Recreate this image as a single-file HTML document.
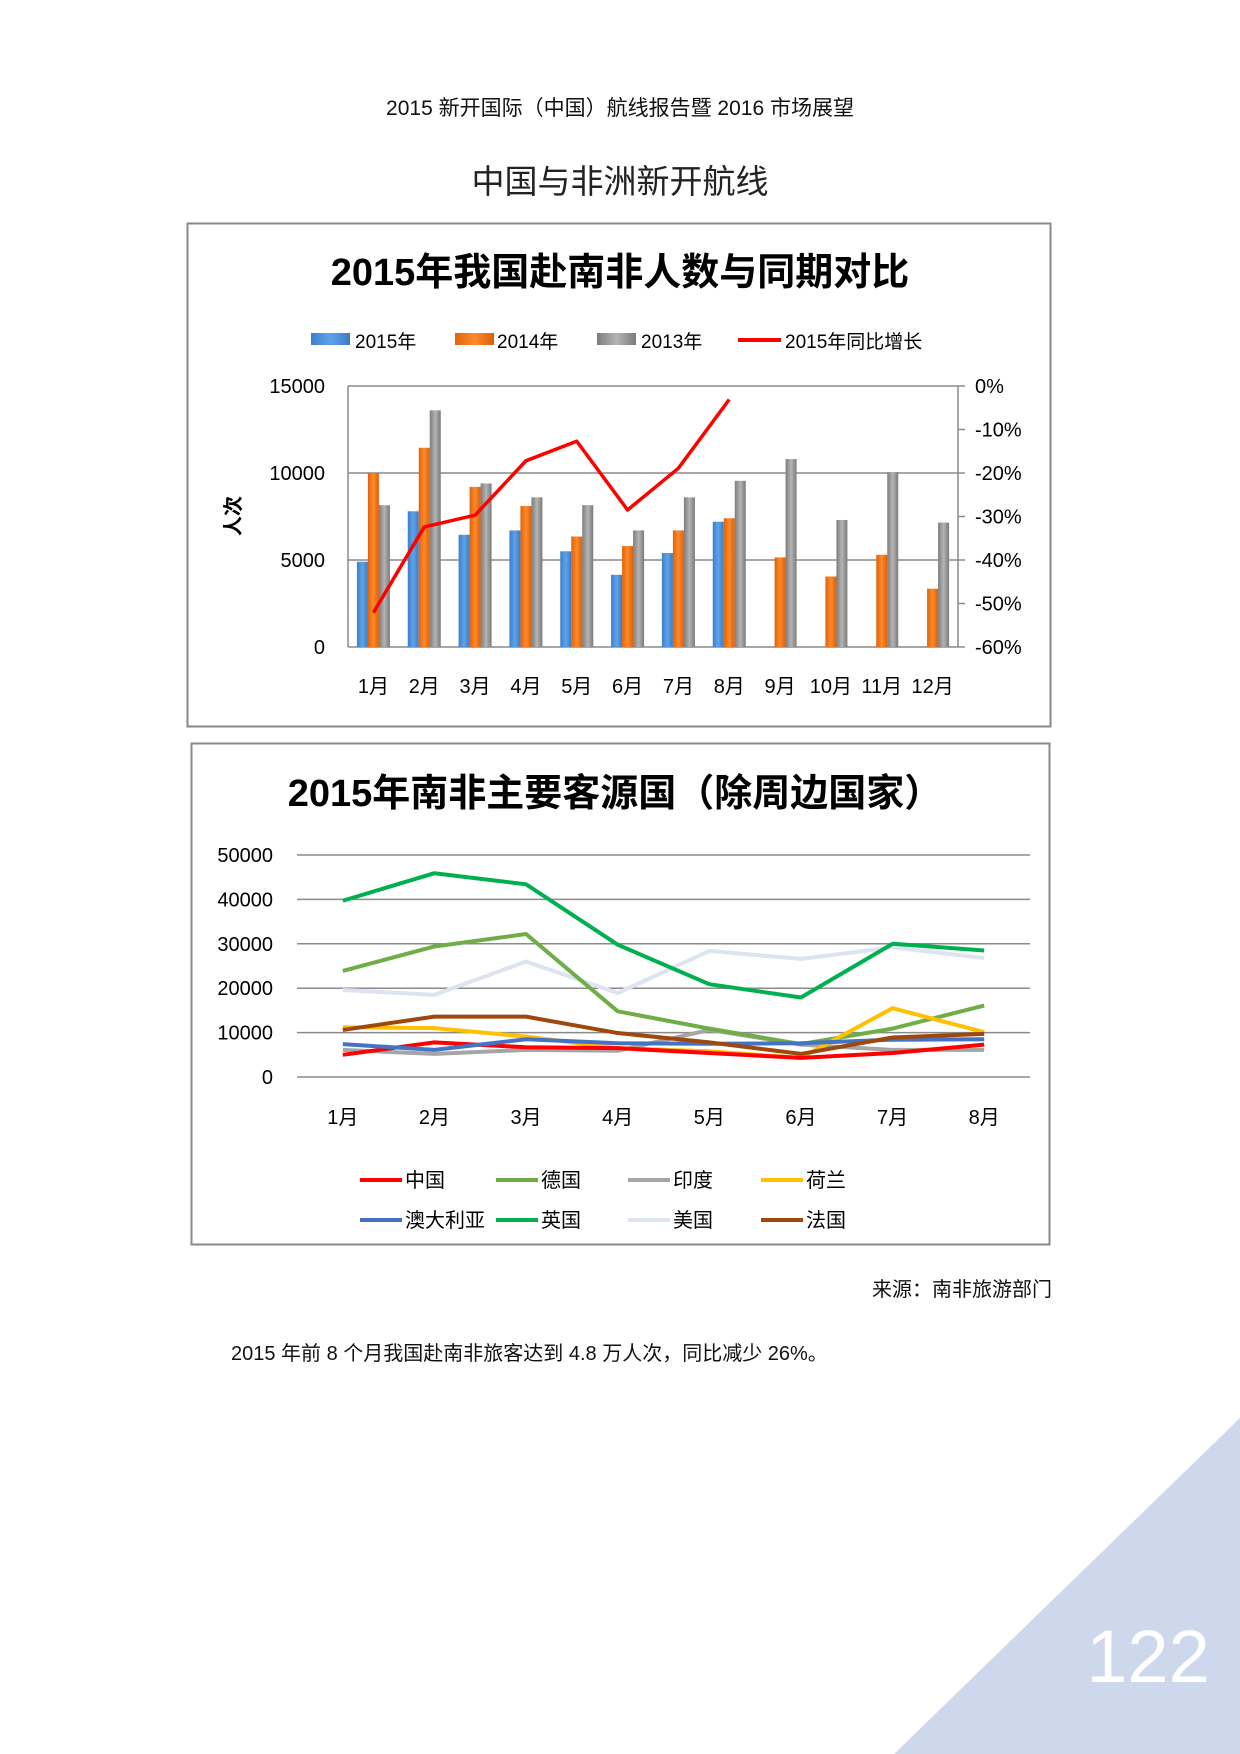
<!DOCTYPE html>
<html><head><meta charset="utf-8">
<style>
body{margin:0;background:#fff;}
svg{display:block;}
text{font-family:"Liberation Sans","Noto Sans CJK SC",sans-serif;}
</style></head>
<body>
<svg id="pg" width="1240" height="1754" viewBox="0 0 1240 1754" xmlns="http://www.w3.org/2000/svg">
<defs>
<linearGradient id="gB" x1="0" x2="1" y1="0" y2="0"><stop offset="0" stop-color="#3b7fc9"/><stop offset="0.5" stop-color="#5ea3ea"/><stop offset="1" stop-color="#3a7cc4"/></linearGradient>
<linearGradient id="gO" x1="0" x2="1" y1="0" y2="0"><stop offset="0" stop-color="#e0620a"/><stop offset="0.5" stop-color="#ff8a2a"/><stop offset="1" stop-color="#dc5f08"/></linearGradient>
<linearGradient id="gG" x1="0" x2="1" y1="0" y2="0"><stop offset="0" stop-color="#7c7c7c"/><stop offset="0.5" stop-color="#b4b4b4"/><stop offset="1" stop-color="#7a7a7a"/></linearGradient>
</defs>
<text x="620" y="115" font-size="21" text-anchor="middle" fill="#111">2015 新开国际（中国）航线报告暨 2016 市场展望</text>
<text x="620" y="193" font-size="33" text-anchor="middle" fill="#222">中国与非洲新开航线</text>

<g>
<rect x="187.5" y="223.5" width="863" height="503" fill="#fff" stroke="#888" stroke-width="2"/>
<text x="620" y="285" font-size="38" font-weight="bold" text-anchor="middle" fill="#000">2015年我国赴南非人数与同期对比</text>
<g>
<rect x="311" y="333" width="39" height="12" fill="url(#gB)"/>
<text x="355" y="348" font-size="19">2015年</text>
<rect x="455" y="333" width="39" height="12" fill="url(#gO)"/>
<text x="497" y="348" font-size="19">2014年</text>
<rect x="597" y="333" width="39" height="12" fill="url(#gG)"/>
<text x="641" y="348" font-size="19">2013年</text>
<line x1="738" y1="340" x2="781" y2="340" stroke="#ff0000" stroke-width="4"/>
<text x="785" y="348" font-size="19">2015年同比增长</text>
</g>
<text transform="translate(240,516) rotate(-90)" font-size="20" font-weight="bold" text-anchor="middle">人次</text>
<g id="c1"></g>
</g>

<g>
<rect x="191.5" y="743.5" width="858" height="501" fill="#fff" stroke="#888" stroke-width="2"/>
<text x="615" y="806" font-size="38" font-weight="bold" text-anchor="middle" fill="#000">2015年南非主要客源国（除周边国家）</text>
<g id="c2"></g>
</g>

<text x="1052" y="1296" font-size="20" text-anchor="end" fill="#111">来源：南非旅游部门</text>
<text x="231" y="1360" font-size="20" fill="#111">2015 年前 8 个月我国赴南非旅客达到 4.8 万人次，同比减少 26%。</text>
<polygon points="1240,1418 1240,1754 894,1754" fill="#cdd8ed"/>
<text x="1148" y="1682" font-size="74" text-anchor="middle" fill="#fff">122</text>
</svg>
<script>
const NS="http://www.w3.org/2000/svg";
const months1=["1月","2月","3月","4月","5月","6月","7月","8月","9月","10月","11月","12月"];
const v2015=[4900,7800,6450,6700,5500,4150,5400,7200];
const v2014=[10000,11450,9200,8100,6350,5800,6700,7400,5150,4050,5300,3350];
const v2013=[8150,13600,9400,8600,8150,6700,8600,9550,10800,7300,10050,7150];
const growth=[-52.1,-32.4,-29.7,-17.2,-12.7,-28.5,-18.9,-3.1];
const leftTicks=[0,5000,10000,15000];
const rightTicks=[0,-10,-20,-30,-40,-50,-60];

const months2=["1月","2月","3月","4月","5月","6月","7月","8月"];
const ticks2=[0,10000,20000,30000,40000,50000];
const sIndia=[6100,5200,6100,5900,10600,7300,6100,6100];
const sUSA=[19600,18500,26000,18900,28400,26600,29200,26800];
const sGermany=[23900,29400,32200,14800,10900,7400,10900,16100];
const sNetherlands=[11200,11000,9100,6500,5800,4300,15500,10100];
const sChina=[5000,7800,6700,6500,5400,4300,5400,7300];
const sAustralia=[7400,6100,8500,7600,7500,7600,8400,8500];
const sFrance=[10600,13600,13600,9900,7800,5200,8900,9700];
const sUK=[39700,45900,43400,29800,20900,17900,30000,28500];

function mk(tag,attrs,parent,txt){const e=document.createElementNS(NS,tag);for(const k in attrs)e.setAttribute(k,attrs[k]);if(txt!==undefined)e.textContent=txt;parent.appendChild(e);return e;}

const c1=document.getElementById('c1');
const P1={l:348,r:958,t:386,b:647};
const yL=v=>P1.b-v/15000*(P1.b-P1.t);
const yR=p=>P1.t+(-p)/60*(P1.b-P1.t);
const bw=(P1.r-P1.l)/months1.length;
const xC=i=>P1.l+bw*(i+0.5);
leftTicks.forEach(v=>{
  const g=mk('line',{x1:P1.l,x2:P1.r,y1:yL(v),y2:yL(v),stroke:'#8a8a8a','stroke-width':1.5},c1);
  
  
  const t=mk('text',{x:325,y:yL(v)+7,'font-size':20,'text-anchor':'end'},c1,String(v));
  
  
});
rightTicks.forEach(p=>{
  const tk=mk('line',{x1:P1.r,x2:P1.r+7,y1:yR(p),y2:yR(p),stroke:'#8a8a8a','stroke-width':1.5},c1);
  
  
  const t=mk('text',{x:975,y:yR(p)+7,'font-size':20},c1,p+'%');
  
  
});
const ax1=mk('line',{x1:P1.l,x2:P1.l,y1:P1.t,y2:P1.b,stroke:'#8a8a8a','stroke-width':1.5},c1);


const ax2=mk('line',{x1:P1.r,x2:P1.r,y1:P1.t,y2:P1.b,stroke:'#8a8a8a','stroke-width':1.5},c1);


const barW=11;
function bars(arr,off,fill,nm){arr.forEach((v,i)=>{
  const r=mk('rect',{x:xC(i)+off,y:yL(v),width:barW,height:P1.b-yL(v),fill:fill},c1);
  
  
});}
bars(v2015,-16.5,'url(#gB)','2015');
bars(v2014,-5.5,'url(#gO)','2014');
bars(v2013,5.5,'url(#gG)','2013');
const gl=mk('polyline',{points:growth.map((p,i)=>xC(i)+','+yR(p)).join(' '),fill:'none',stroke:'#ff0000','stroke-width':3.5,'stroke-linejoin':'round'},c1);


months1.forEach((m,i)=>{
  const t=mk('text',{x:xC(i),y:693,'font-size':20,'text-anchor':'middle'},c1,m);
  
  
});

const c2=document.getElementById('c2');
const P2={l:297,r:1030,t:855,b:1077};
const y2=v=>P2.b-v/50000*(P2.b-P2.t);
const bw2=(P2.r-P2.l)/months2.length;
const x2=i=>P2.l+bw2*(i+0.5);
ticks2.forEach(v=>{
  const g=mk('line',{x1:P2.l,x2:P2.r,y1:y2(v),y2:y2(v),stroke:'#8a8a8a','stroke-width':1.5},c2);
  
  
  const t=mk('text',{x:273,y:y2(v)+7,'font-size':20,'text-anchor':'end'},c2,String(v));
  
  
});
months2.forEach((m,i)=>{
  const t=mk('text',{x:x2(i),y:1124,'font-size':20,'text-anchor':'middle'},c2,m);
  
  
});
const series=[
 ['india',sIndia,'#a5a5a5'],['usa',sUSA,'#dde3ef'],['germany',sGermany,'#70ad47'],['netherlands',sNetherlands,'#ffc000'],
 ['china',sChina,'#ff0000'],['australia',sAustralia,'#4472c4'],['france',sFrance,'#9e480e'],['uk',sUK,'#00b050']];
series.forEach(s=>{
  const l=mk('polyline',{points:s[1].map((v,i)=>x2(i)+','+y2(v)).join(' '),fill:'none',stroke:s[2],'stroke-width':4,'stroke-linejoin':'round'},c2);
  
  
});
const leg=[['中国','#ff0000',360,1180],['德国','#70ad47',496,1180],['印度','#a5a5a5',628,1180],['荷兰','#ffc000',761,1180],
 ['澳大利亚','#4472c4',360,1220],['英国','#00b050',496,1220],['美国','#dde3ef',628,1220],['法国','#9e480e',761,1220]];
leg.forEach(e=>{
  const l=mk('line',{x1:e[2],x2:e[2]+42,y1:e[3],y2:e[3],stroke:e[1],'stroke-width':4},c2);
  
  
  const t=mk('text',{x:e[2]+45,y:e[3]+7,'font-size':20},c2,e[0]);
  
  
});
</script>
</body></html>
